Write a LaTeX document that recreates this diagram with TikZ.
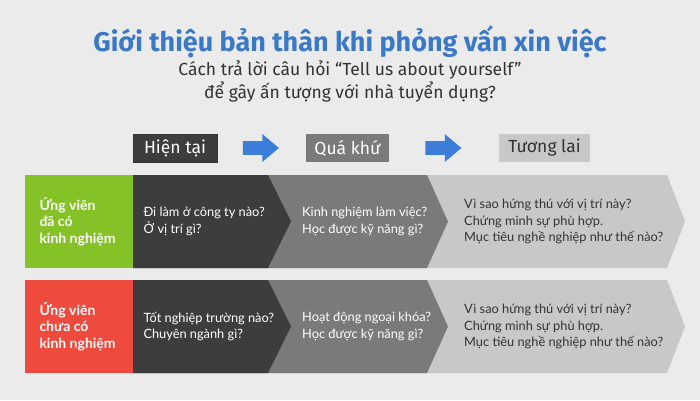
\documentclass[tikz,border=0pt]{standalone}
\usepackage{fontspec}
\setmainfont{Lato}
\newfontfamily\headfont{Fira Sans}
\usetikzlibrary{positioning,shapes.arrows}
\definecolor{titleblue}{RGB}{58,120,200}
\definecolor{bggray}{RGB}{235,235,235}
\definecolor{boxdark}{RGB}{61,61,61}
\definecolor{boxmid}{RGB}{122,122,122}
\definecolor{boxlight}{RGB}{200,200,200}
\definecolor{boxgreen}{RGB}{133,194,40}
\definecolor{boxred}{RGB}{239,74,62}
\definecolor{arrowblue}{RGB}{59,125,216}
\definecolor{textdark}{RGB}{51,51,51}

\begin{document}
\begin{tikzpicture}[x=1pt,y=-1pt,node distance=25pt]
	\tikzstyle{tab}=[rectangle, inner sep=0pt, minimum height=27.5pt, font=\headfont\fontsize{17.5}{20}\selectfont]
	\tikzstyle{goarrow}=[single arrow, fill=arrowblue, inner xsep=0pt, inner ysep=6.7pt, minimum height=36pt, single arrow head extend=7pt, single arrow tip angle=80]
	\tikzstyle{lead}=[anchor=west, align=left, text=white, inner sep=0pt, font=\bfseries\fontsize{14}{16.5}\selectfont]
	\tikzstyle{cell}=[anchor=west, align=left, inner sep=0pt, font=\fontsize{12.8}{16.2}\selectfont]

	\useasboundingbox (0,0) rectangle (700,400);
	\fill [bggray] (0,0) rectangle (700,400);

	\node [anchor=base, text=titleblue, font=\headfont\bfseries\fontsize{27}{30}\selectfont] (title) at (350,51) {Giới thiệu bản thân khi phỏng vấn xin việc};
	\node [anchor=base, text=textdark, font=\headfont\fontsize{17.5}{20}\selectfont] (sub1) at (350,75) {Cách trả lời câu hỏi “Tell us about yourself”};
	\node [anchor=base, text=textdark, font=\headfont\fontsize{17.5}{20}\selectfont] (sub2) at (350,98.3) {để gây ấn tượng với nhà tuyển dụng?};

	\node [tab, fill=boxdark, draw=black!80, text=white, minimum width=84pt] (now) at (175,148) {Hiện tại};
	\node [goarrow] (a1) [right=25.5pt of now] {};
	\node [tab, fill=boxmid, text=white, minimum width=83pt] (past) at (347.5,148) {Quá khứ};
	\node [goarrow] (a2) [right=36pt of past] {};
	\node [tab, fill=boxlight, text=textdark, minimum width=91pt] (future) at (544.5,148) {Tương lai};

	\fill [boxlight] (133,175) -- (667,175) -- (685,221.5) -- (667,268) -- (133,268) -- cycle;
	\fill [boxmid] (133,175) -- (427,175) -- (448,221.5) -- (427,268) -- (133,268) -- cycle;
	\fill [boxdark] (133,175) -- (268,175) -- (291,221.5) -- (268,268) -- (133,268) -- cycle;
	\fill [boxgreen] (25,175) rectangle (133,268);

	\fill [boxlight] (133,280) -- (667,280) -- (685,326.5) -- (667,373) -- (133,373) -- cycle;
	\fill [boxmid] (133,280) -- (427,280) -- (448,326.5) -- (427,373) -- (133,373) -- cycle;
	\fill [boxdark] (133,280) -- (268,280) -- (291,326.5) -- (268,373) -- (133,373) -- cycle;
	\fill [boxred] (25,280) rectangle (133,373);

	\node [lead] (exp) at (39.3,221.5) {Ứng viên\\đã có\\kinh nghiệm};
	\node [cell, text=white] (exp now) at (143.3,221.5) {Đi làm ở công ty nào?\\Ở vị trí gì?};
	\node [cell, text=white] (exp past) at (302,221.5) {Kinh nghiệm làm việc?\\Học được kỹ năng gì?};
	\node [cell, text=textdark] (exp future) at (464,221.5) {Vì sao hứng thú với vị trí này?\\Chứng minh sự phù hợp.\\Mục tiêu nghề nghiệp như thế nào?};

	\node [lead] (new) at (39.3,326.5) {Ứng viên\\chưa có\\kinh nghiệm};
	\node [cell, text=white] (new now) at (143.3,326.5) {Tốt nghiệp trường nào?\\Chuyên ngành gì?};
	\node [cell, text=white] (new past) at (302,326.5) {Hoạt động ngoại khóa?\\Học được kỹ năng gì?};
	\node [cell, text=textdark] (new future) at (464,326.5) {Vì sao hứng thú với vị trí này?\\Chứng minh sự phù hợp.\\Mục tiêu nghề nghiệp như thế nào?};
\end{tikzpicture}
\end{document}
